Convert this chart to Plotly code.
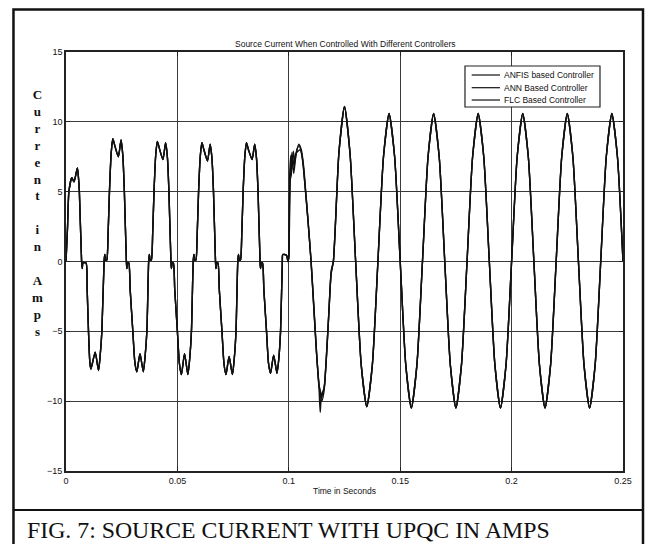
import plotly.graph_objects as go

# ---------------- data ----------------
# Shared waveform before the controllers act (0 .. 0.0996 s)
pre_time = [
    0.0000, 0.0007, 0.0013, 0.0026, 0.0036, 0.0051, 0.0056, 0.0060, 0.0070, 0.0073,
    0.0076, 0.0090, 0.0095, 0.0101, 0.0107, 0.0112, 0.0131, 0.0146, 0.0153, 0.0161,
    0.0171, 0.0174, 0.0178, 0.0183, 0.0189, 0.0195, 0.0203, 0.0210, 0.0219, 0.0235,
    0.0247, 0.0255, 0.0262, 0.0271, 0.0273, 0.0277, 0.0282, 0.0288, 0.0300, 0.0309,
    0.0318, 0.0332, 0.0347, 0.0355, 0.0363,
    0.0371, 0.0374, 0.0378, 0.0383, 0.0389, 0.0395, 0.0403, 0.0410, 0.0419, 0.0435,
    0.0447, 0.0455, 0.0462, 0.0471, 0.0473, 0.0477, 0.0482, 0.0488, 0.0500, 0.0509,
    0.0518, 0.0532, 0.0547, 0.0555, 0.0563,
    0.0571, 0.0574, 0.0578, 0.0583, 0.0589, 0.0595, 0.0603, 0.0610, 0.0619, 0.0635,
    0.0647, 0.0655, 0.0662, 0.0671, 0.0673, 0.0677, 0.0682, 0.0688, 0.0700, 0.0709,
    0.0718, 0.0732, 0.0747, 0.0755, 0.0763,
    0.0771, 0.0774, 0.0778, 0.0783, 0.0789, 0.0795, 0.0803, 0.0810, 0.0819, 0.0835,
    0.0847, 0.0855, 0.0862, 0.0871, 0.0873, 0.0877, 0.0882, 0.0888, 0.0900, 0.0909,
    0.0918, 0.0932, 0.0947, 0.0955, 0.0963,
    0.0971, 0.0973, 0.0990, 0.0996,
]
pre_current = [
    0.0, 2.5, 5.0, 6.0, 5.7, 6.7, 6.0, 5.0, 0.0, -0.5,
    -0.1, -0.1, -2.0, -5.0, -7.2, -7.7, -6.5, -7.8, -6.8, -5.0,
    0.0, 0.5, 0.1, 0.1, 2.0, 5.0, 7.8, 8.8, 8.3, 7.5,
    8.7, 7.6, 5.0, 0.0, -0.5, -0.1, -0.1, -2.0, -5.0, -7.2,
    -7.9, -6.6, -7.9, -6.8, -5.0,
    0.0, 0.5, 0.1, 0.1, 2.0, 5.0, 7.7, 8.6, 8.1, 7.3,
    8.5, 7.5, 5.0, 0.0, -0.5, -0.1, -0.1, -2.0, -5.0, -7.3,
    -8.1, -6.6, -8.1, -7.0, -5.0,
    0.0, 0.5, 0.1, 0.1, 2.0, 5.0, 7.6, 8.5, 8.0, 7.2,
    8.4, 7.4, 5.0, 0.0, -0.5, -0.1, -0.1, -2.0, -5.0, -7.3,
    -8.1, -6.8, -8.1, -7.0, -5.0,
    0.0, 0.5, 0.1, 0.1, 2.0, 5.0, 7.6, 8.5, 8.0, 7.3,
    8.4, 7.4, 5.0, 0.0, -0.5, -0.1, -0.1, -2.0, -5.0, -7.3,
    -8.0, -6.7, -8.0, -7.0, -5.0,
    0.0, 0.5, 0.45, 0.0,
]

# Transient after compensation starts (0.1 .. 0.119 s), one per controller
anfis_time = [0.1000, 0.1004, 0.1009, 0.1014, 0.1020, 0.1027, 0.1036, 0.1046, 0.1055, 0.1065,
              0.1075, 0.1087, 0.1100, 0.1112, 0.1125, 0.1137, 0.1148, 0.1158, 0.1168, 0.1180, 0.1190]
anfis_current = [0.2, 6.2, 7.6, 6.6, 7.9, 7.2, 8.0, 8.3, 7.9, 6.8,
                 5.0, 2.7, 0.0, -3.2, -6.6, -9.0, -10.0, -9.3, -7.0, -3.6, -0.9]

ann_time = [0.1000, 0.1006, 0.1011, 0.1017, 0.1024, 0.1031, 0.1041, 0.1052, 0.1062, 0.1072,
            0.1085, 0.1099, 0.1111, 0.1124, 0.1136, 0.1142, 0.1147, 0.1152, 0.1160, 0.1170, 0.1181, 0.1191]
ann_current = [0.3, 5.8, 6.2, 7.5, 6.8, 7.7, 7.9, 8.0, 7.3, 5.6,
               3.2, 0.2, -3.0, -6.5, -8.9, -9.3, -9.8, -9.4, -8.9, -6.6, -3.3, -0.6]

flc_time = [0.1000, 0.1003, 0.1008, 0.1014, 0.1022, 0.1032, 0.1045, 0.1056, 0.1066, 0.1077,
            0.1089, 0.1101, 0.1114, 0.1126, 0.1136, 0.1141, 0.1147, 0.1157, 0.1168, 0.1179, 0.1190]
flc_current = [0.5, 4.0, 6.5, 7.8, 6.3, 7.6, 8.4, 8.0, 6.9, 4.8,
               2.4, -0.2, -3.6, -6.9, -9.2, -10.8, -9.5, -9.2, -7.0, -3.9, -0.8]

# Shared steady state (0.12 .. 0.25 s)
post_time = [
    0.1200, 0.1225, 0.1250, 0.1275, 0.1300, 0.1325, 0.1350, 0.1375, 0.1400, 0.1425,
    0.1450, 0.1475, 0.1500, 0.1525, 0.1550, 0.1575, 0.1600, 0.1625, 0.1650, 0.1675,
    0.1700, 0.1725, 0.1750, 0.1775, 0.1800, 0.1825, 0.1850, 0.1875, 0.1900, 0.1925,
    0.1950, 0.1975, 0.2000, 0.2025, 0.2050, 0.2075, 0.2100, 0.2125, 0.2150, 0.2175,
    0.2200, 0.2225, 0.2250, 0.2275, 0.2300, 0.2325, 0.2350, 0.2375, 0.2400, 0.2425,
    0.2450, 0.2475, 0.2500,
]
post_current = [
    0.0, 7.8, 11.1, 7.7, 0.0, -7.4, -10.4, -7.4, 0.0, 7.5,
    10.6, 7.5, 0.0, -7.4, -10.5, -7.4, 0.0, 7.5, 10.6, 7.5,
    0.0, -7.4, -10.5, -7.4, 0.0, 7.5, 10.6, 7.5, 0.0, -7.4,
    -10.5, -7.4, 0.0, 7.5, 10.6, 7.5, 0.0, -7.4, -10.5, -7.4,
    0.0, 7.5, 10.6, 7.5, 0.0, -7.4, -10.5, -7.4, 0.0, 7.5,
    10.6, 7.5, 0.0,
]

controller_names = ["ANFIS based Controller", "ANN Based Controller", "FLC Based Controller"]
x_tick_vals = [0, 0.05, 0.1, 0.15, 0.2, 0.25]
x_tick_text = ["0", "0.05", "0.1", "0.15", "0.2", "0.25"]
y_tick_vals = [-15, -10, -5, 0, 5, 10, 15]

# ---------------- figure ----------------
transients = [(anfis_time, anfis_current), (ann_time, ann_current), (flc_time, flc_current)]
fig = go.Figure()
for name, (tt, ii) in zip(controller_names, transients):
    fig.add_trace(go.Scatter(
        x=pre_time + tt + post_time,
        y=pre_current + ii + post_current,
        mode="lines", name=name,
        line=dict(color="#111111", width=1.4, shape="spline", smoothing=0.6),
        showlegend=False,
    ))

FONT = "Liberation Sans, Arial, sans-serif"
axis_common = dict(
    showline=True, linecolor="#222222", linewidth=1.6, mirror="ticks",
    showgrid=True, gridcolor="#3a3a3a", gridwidth=1.4,
    zeroline=False, ticks="inside", ticklen=4, tickcolor="#222222",
    tickfont=dict(family=FONT, size=9, color="#111111"),
)
fig.update_xaxes(range=[0, 0.25], tickvals=x_tick_vals, ticktext=x_tick_text, **axis_common)
fig.update_yaxes(range=[-15, 15], tickvals=y_tick_vals, **axis_common)

shapes = [
    # outer frame
    dict(type="rect", xref="paper", yref="paper", x0=-0.0943, x1=1.0359, y0=-0.25, y1=1.1014,
         line=dict(color="#111111", width=2.5)),
    # caption divider
    dict(type="line", xref="paper", yref="paper", x0=-0.0943, x1=1.0359, y0=-0.0931, y1=-0.0931,
         line=dict(color="#111111", width=2)),
    # legend box
    dict(type="rect", xref="paper", yref="paper", x0=0.7163, x1=0.9587, y0=0.8687, y1=0.9666,
         line=dict(color="#222222", width=1.2), fillcolor="white", layer="above"),
]
legend_rows = [0.9451, 0.9148, 0.8854]
annotations = []
for name, yr in zip(controller_names, legend_rows):
    shapes.append(dict(type="line", xref="paper", yref="paper", x0=0.7284, x1=0.7792, y0=yr, y1=yr,
                       line=dict(color="#111111", width=1.2), layer="above"))
    annotations.append(dict(xref="paper", yref="paper", x=0.7828, y=yr, text=name, showarrow=False,
                            xanchor="left", yanchor="middle",
                            font=dict(family=FONT, size=8.5, color="#111111")))

annotations += [
    dict(xref="paper", yref="paper", x=0.5, y=1.0191, text="Source Current When Controlled With Different Controllers",
         showarrow=False, xanchor="center", yanchor="middle", font=dict(family=FONT, size=8.5, color="#111111")),
    dict(xref="paper", yref="paper", x=0.5, y=-0.0477, text="Time in Seconds",
         showarrow=False, xanchor="center", yanchor="middle", font=dict(family=FONT, size=8.5, color="#111111")),
    dict(xref="paper", yref="paper", x=-0.052, y=0.6158,
         text="<b>C<br>u<br>r<br>r<br>e<br>n<br>t<br> <br>i<br>n<br> <br>A<br>m<br>p<br>s</b>",
         showarrow=False, xanchor="center", yanchor="middle", align="center",
         font=dict(family="Liberation Serif, Times New Roman, serif", size=13, color="#111111")),
    dict(xref="paper", yref="paper", x=-0.0736, y=-0.1408, text="FIG. 7: SOURCE CURRENT WITH UPQC IN AMPS",
         showarrow=False, xanchor="left", yanchor="middle",
         font=dict(family="Liberation Serif, Times New Roman, serif", size=23.8, color="#111111")),
]

fig.update_layout(
    width=648, height=544,
    margin=dict(l=66, r=25, t=52, b=73),
    paper_bgcolor="white", plot_bgcolor="white",
    shapes=shapes, annotations=annotations,
    showlegend=False,
)
fig.write_html("out.html", config={"displayModeBar": False},
               post_script="document.body.style.margin='0';")
